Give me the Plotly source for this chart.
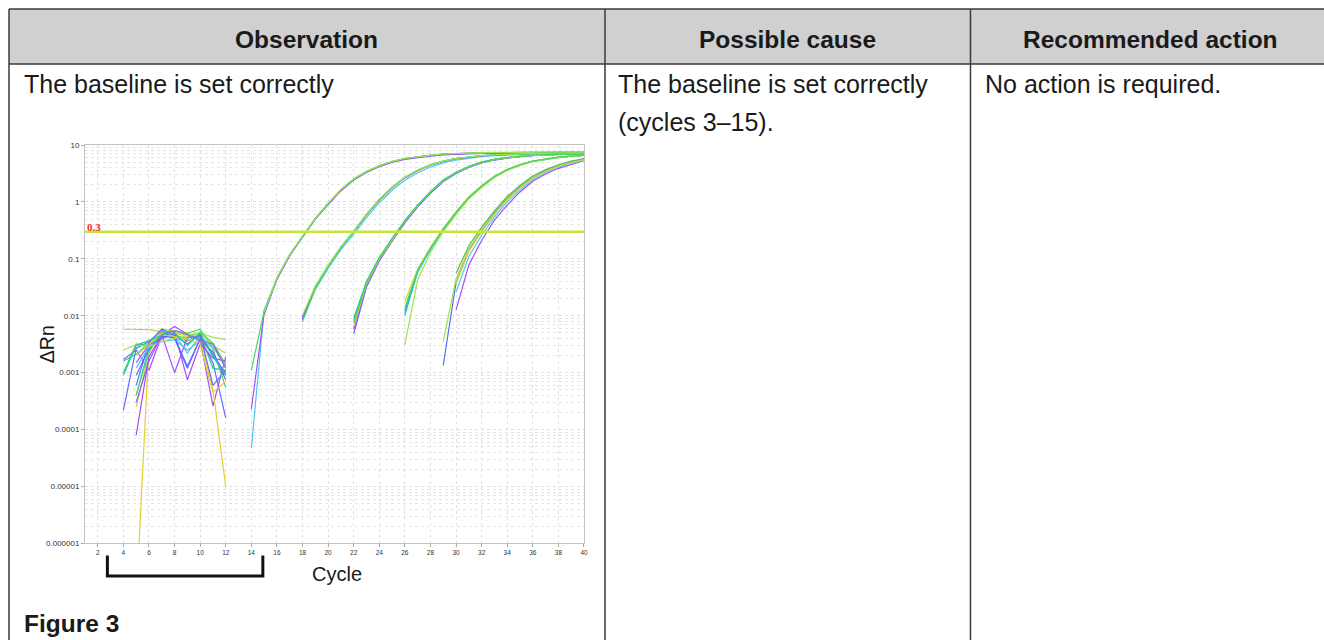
import math
import plotly.graph_objects as go

W, H = 1324, 640

# ---------------- data ----------------
CYCLES = [1, 2, 3, 4, 5, 6, 7, 8, 9, 10, 11, 12, 13, 14, 15, 16, 17, 18, 19, 20,
          21, 22, 23, 24, 25, 26, 27, 28, 29, 30, 31, 32, 33, 34, 35, 36, 37, 38, 39, 40]
X_TICKS = [2, 4, 6, 8, 10, 12, 14, 16, 18, 20, 22, 24, 26, 28, 30, 32, 34, 36, 38, 40]
Y_TICKS = [0.000001, 0.00001, 0.0001, 0.001, 0.01, 0.1, 1, 10]
Y_TICK_TEXT = ["0.000001", "0.00001", "0.0001", "0.001", "0.01", "0.1", "1", "10"]
THRESHOLD = 0.3
BASELINE_RANGE = [2.75, 14.9]

PURPLE = "#a64dff"
BLUE = "#5a6bff"
CYAN = "#4cc7f5"
TEAL = "#20c8a2"
GREEN = "#3fdc5c"
LIME = "#9fe34a"
YELLOW = "#e3cf33"
DKGREEN = "#5cb85c"
OLIVE = "#cfc65a"
THRESH_COLOR = "#c6e63c"

# baseline-noise wells
NOISE_01 = [0.0058, 0.0058, 0.0057, 0.0052, 0.0048, 0.0045, 0.0042, 0.0030, 0.0022]
NOISE_02 = [0.00022, 0.0027, 0.0035, 0.0055, 0.0040, 0.0012, 0.0040, 0.0015, 0.00016]
NOISE_03 = [0.0017, 0.0025, 0.0011, 0.0045, 0.0065, 0.0048, 0.0038, 0.00026, 0.0019]
NOISE_04 = [0.0010, 0.0032, 0.0030, 0.0052, 0.0044, 0.0040, 0.0052, 0.0033, 0.0014]
NOISE_05 = [0.0000001, 0.0030, 0.0060, 0.0050, 0.0045, 0.0040, 0.00050, 0.00001]
NOISE_06 = [0.00040, 0.0028, 0.0040, 0.0048, 0.0022, 0.0045, 0.0019, 0.00090]
NOISE_07 = [0.0016, 0.0021, 0.0033, 0.0042, 0.0047, 0.0036, 0.0048, 0.0012, 0.0011]
NOISE_08 = [0.00025, 0.0022, 0.0058, 0.0053, 0.0046, 0.0050, 0.0042, 0.0038]
NOISE_09 = [0.00008, 0.0019, 0.0047, 0.0010, 0.0042, 0.0042, 0.0021, 0.00095]
NOISE_10 = [0.00060, 0.0034, 0.0058, 0.0045, 0.0032, 0.0047, 0.00060, 0.0011]
NOISE_11 = [0.0015, 0.0031, 0.0039, 0.0052, 0.00075, 0.0032, 0.0018, 0.0016]
NOISE_12 = [0.00040, 0.0024, 0.0051, 0.0055, 0.0049, 0.0058, 0.0026, 0.00055]
NOISE_13 = [0.0020, 0.0031, 0.0049, 0.0043, 0.0039, 0.0031, 0.00045, 0.00070]
NOISE_14 = [0.0012, 0.0029, 0.0035, 0.0038, 0.0025, 0.0036, 0.0028, 0.0013]
NOISE_15 = [0.00090, 0.0026, 0.0044, 0.0041, 0.0013, 0.0039, 0.0023, 0.00075]
NOISE_16 = [0.0025, 0.0031, 0.0028, 0.0036, 0.0040, 0.0044, 0.0049, 0.0031, 0.0012]
NOISE_17 = [0.00030, 0.0016, 0.0046, 0.0055, 0.0047, 0.0036, 0.0032, 0.0012]
NOISE_18 = [0.0009, 0.0030, 0.0037, 0.0045, 0.0050, 0.0030, 0.0050, 0.0020, 0.0009]

# amplification curves, group 1 (highest input)
G1_A = [0.0011, 0.012, 0.046, 0.118, 0.245, 0.51, 0.93, 1.62, 2.5, 3.4, 4.3, 5.1, 5.8, 6.2,
        6.6, 6.9, 7.1, 7.2, 7.3, 7.3, 7.4, 7.4, 7.4, 7.4, 7.4, 7.4, 7.4]
G1_B = [0.00023, 0.011, 0.044, 0.114, 0.24, 0.5, 0.9, 1.56, 2.42, 3.3, 4.15, 4.95, 5.6, 6.05,
        6.4, 6.7, 6.9, 7.0, 7.1, 7.1, 7.2, 7.2, 7.2, 7.2, 7.2, 7.2, 7.2]
G1_C = [0.000047, 0.0125, 0.045, 0.116, 0.242, 0.505, 0.92, 1.6, 2.48, 3.38, 4.25, 5.05, 5.7,
        6.15, 6.55, 6.85, 7.05, 7.15, 7.25, 7.3, 7.35, 7.35, 7.35, 7.4, 7.4, 7.4, 7.4]
G1_D = [0.0105, 0.044, 0.117, 0.245, 0.51, 0.94, 1.63, 2.52, 3.42, 4.3, 5.1, 5.75, 6.2, 6.6,
        6.9, 7.1, 7.2, 7.3, 7.35, 7.4, 7.45, 7.45, 7.45, 7.45, 7.45, 7.45]
G1_E = [0.0115, 0.046, 0.12, 0.25, 0.52, 0.95, 1.65, 2.55, 3.45, 4.35, 5.15, 5.8, 6.25, 6.65,
        6.95, 7.15, 7.25, 7.35, 7.4, 7.45, 7.5, 7.5, 7.5, 7.5, 7.5, 7.5]
G1_F = [0.012, 0.045, 0.118, 0.247, 0.51, 0.93, 1.61, 2.5, 3.4, 4.28, 5.08, 5.75, 6.2, 6.6,
        6.9, 7.1, 7.2, 7.3, 7.35, 7.4, 7.4, 7.4, 7.4, 7.4, 7.4, 7.4]

# group 2
G2_A = [0.0095, 0.031, 0.074, 0.158, 0.3, 0.59, 1.08, 1.78, 2.65, 3.55, 4.45, 5.15, 5.75, 6.15,
        6.45, 6.7, 6.9, 7.0, 7.1, 7.15, 7.2, 7.25, 7.25]
G2_B = [0.0078, 0.03, 0.073, 0.157, 0.3, 0.6, 1.1, 1.8, 2.7, 3.6, 4.5, 5.2, 5.8, 6.2, 6.5,
        6.75, 6.9, 7.05, 7.15, 7.2, 7.25, 7.3, 7.3]
G2_C = [0.0085, 0.029, 0.068, 0.145, 0.27, 0.53, 0.97, 1.6, 2.4, 3.25, 4.1, 4.85, 5.45, 5.9,
        6.25, 6.5, 6.7, 6.85, 6.95, 7.0, 7.05, 7.1, 7.1]
G2_D = [0.0102, 0.033, 0.077, 0.163, 0.31, 0.61, 1.12, 1.83, 2.72, 3.62, 4.52, 5.22, 5.82, 6.22,
        6.52, 6.72, 6.92, 7.02, 7.12, 7.2, 7.22, 7.3, 7.3]
G2_E = [0.0088, 0.032, 0.075, 0.16, 0.3, 0.6, 1.1, 1.79, 2.68, 3.58, 4.48, 5.18, 5.78, 6.18,
        6.48, 6.7, 6.88, 7.0, 7.1, 7.15, 7.2, 7.25, 7.25]
G2_F = [0.0092, 0.033, 0.076, 0.162, 0.305, 0.605, 1.1, 1.8, 2.7, 3.6, 4.5, 5.2, 5.8, 6.2, 6.5,
        6.7, 6.9, 7.0, 7.1, 7.2, 7.2, 7.3, 7.3]

# group 3
G3_A = [0.009, 0.04, 0.105, 0.23, 0.47, 0.88, 1.52, 2.42, 3.32, 4.22, 5.0, 5.6, 6.05, 6.4, 6.65,
        6.8, 6.9, 7.0, 7.05]
G3_B = [0.0048, 0.032, 0.092, 0.205, 0.43, 0.82, 1.42, 2.28, 3.15, 4.05, 4.85, 5.45, 5.9, 6.25,
        6.5, 6.7, 6.85, 6.95, 7.0]
G3_C = [0.0065, 0.036, 0.099, 0.218, 0.455, 0.86, 1.49, 2.38, 3.28, 4.18, 4.98, 5.58, 6.0, 6.38,
        6.6, 6.78, 6.9, 6.98, 7.0]
G3_D = [0.0075, 0.038, 0.102, 0.225, 0.465, 0.875, 1.51, 2.4, 3.3, 4.2, 5.0, 5.6, 6.02, 6.4,
        6.62, 6.8, 6.9, 7.0, 7.02]
G3_E = [0.0058, 0.034, 0.095, 0.21, 0.44, 0.84, 1.45, 2.32, 3.22, 4.12, 4.92, 5.52, 5.95, 6.3,
        6.55, 6.72, 6.85, 6.95, 6.98]
G3_F = [0.0082, 0.039, 0.103, 0.226, 0.47, 0.88, 1.52, 2.42, 3.32, 4.2, 5.0, 5.6, 6.0, 6.38,
        6.6, 6.78, 6.9, 6.98, 7.0]

# group 4
G4_A = [0.018, 0.066, 0.158, 0.345, 0.67, 1.22, 1.93, 2.83, 3.72, 4.52, 5.22, 5.72, 6.12, 6.42, 6.62]
G4_B = [0.0102, 0.062, 0.152, 0.335, 0.655, 1.2, 1.9, 2.8, 3.7, 4.5, 5.2, 5.7, 6.1, 6.4, 6.6]
G4_C = [0.0031, 0.043, 0.13, 0.3, 0.6, 1.12, 1.8, 2.68, 3.58, 4.38, 5.1, 5.62, 6.02, 6.35, 6.55]
G4_D = [0.012, 0.06, 0.148, 0.328, 0.648, 1.19, 1.89, 2.79, 3.69, 4.49, 5.19, 5.69, 6.09, 6.39, 6.6]
G4_E = [0.014, 0.063, 0.154, 0.338, 0.66, 1.21, 1.91, 2.81, 3.71, 4.51, 5.21, 5.71, 6.11, 6.41, 6.61]
G4_F = [0.011, 0.058, 0.146, 0.325, 0.64, 1.18, 1.87, 2.77, 3.67, 4.47, 5.17, 5.67, 6.07, 6.37, 6.58]

# group 5 (lowest input)
G5_A = [0.056, 0.17, 0.36, 0.7, 1.25, 1.95, 2.85, 3.7, 4.5, 5.2, 5.8]
G5_B = [0.0035, 0.045, 0.15, 0.33, 0.66, 1.2, 1.88, 2.75, 3.6, 4.4, 5.1, 5.7]
G5_C = [0.00135, 0.038, 0.14, 0.31, 0.63, 1.15, 1.82, 2.68, 3.52, 4.32, 5.02, 5.62]
G5_D = [0.037, 0.135, 0.3, 0.6, 1.1, 1.75, 2.6, 3.45, 4.25, 4.95, 5.55]
G5_E = [0.026, 0.11, 0.26, 0.54, 1.0, 1.62, 2.45, 3.3, 4.1, 4.8, 5.4]
G5_F = [0.0126, 0.078, 0.21, 0.48, 0.88, 1.5, 2.3, 3.1, 3.9, 4.6, 5.3]

WELLS = [
    (4, OLIVE, NOISE_01), (4, BLUE, NOISE_02), (4, PURPLE, NOISE_03), (4, GREEN, NOISE_04),
    (5, YELLOW, NOISE_05), (5, CYAN, NOISE_06), (4, TEAL, NOISE_07), (5, LIME, NOISE_08),
    (5, PURPLE, NOISE_09), (5, BLUE, NOISE_10), (5, PURPLE, NOISE_11), (5, GREEN, NOISE_12),
    (5, YELLOW, NOISE_13), (5, CYAN, NOISE_14), (5, BLUE, NOISE_15), (4, LIME, NOISE_16),
    (5, PURPLE, NOISE_17), (4, TEAL, NOISE_18),
    (14, CYAN, G1_C), (15, BLUE, G1_D), (15, TEAL, G1_F), (14, PURPLE, G1_B),
    (14, GREEN, G1_A), (15, LIME, G1_E),
    (18, CYAN, G2_C), (18, BLUE, G2_E), (18, TEAL, G2_F), (18, PURPLE, G2_A),
    (18, GREEN, G2_B), (18, LIME, G2_D),
    (22, BLUE, G3_B), (22, CYAN, G3_F), (22, PURPLE, G3_E), (22, TEAL, G3_A),
    (22, YELLOW, G3_C), (22, GREEN, G3_D),
    (26, BLUE, G4_D), (26, CYAN, G4_F), (26, TEAL, G4_B), (26, YELLOW, G4_A),
    (26, LIME, G4_C), (26, GREEN, G4_E),
    (30, PURPLE, G5_F), (29, BLUE, G5_C), (30, CYAN, G5_E), (30, YELLOW, G5_D),
    (29, LIME, G5_B), (30, DKGREEN, G5_A),
]

# ---------------- layout helpers (target pixel -> paper) ----------------
SX, SY, OY = 0.997, 0.985, 4.1   # calibration of the captured page


def px(x):
    return (x / SX) / W


def py(y):
    return 1 - ((y - OY) / SY) / H


FONT = "Liberation Sans, Arial, Helvetica, sans-serif"
LINE = "#3a3a3a"

fig = go.Figure()

for start, color, vals in WELLS:
    xs = CYCLES[start - 1:start - 1 + len(vals)]
    fig.add_trace(go.Scatter(x=xs, y=vals, mode="lines",
                             line=dict(color=color, width=1.2),
                             showlegend=False, hoverinfo="skip"))

fig.add_trace(go.Scatter(x=[CYCLES[0], CYCLES[-1]], y=[THRESHOLD, THRESHOLD], mode="lines",
                         line=dict(color=THRESH_COLOR, width=2.6),
                         showlegend=False, hoverinfo="skip"))

shapes = []
shapes.append(dict(type="rect", xref="paper", yref="paper", x0=px(9), x1=px(1335),
                   y0=py(64), y1=py(9), fillcolor="#d0d0d0", line=dict(width=0), layer="below"))
for (x0, y0, x1, y1) in [(9, 9, 1335, 9), (9, 64, 1335, 64),
                         (9, 9, 9, 650), (605, 9, 605, 650), (970.5, 9, 970.5, 650)]:
    shapes.append(dict(type="line", xref="paper", yref="paper", x0=px(x0), x1=px(x1),
                       y0=py(y0), y1=py(y1), line=dict(color=LINE, width=1.5)))
shapes.append(dict(type="path", xref="x", yref="paper",
                   path="M %f,%f L %f,%f L %f,%f L %f,%f" % (
                       BASELINE_RANGE[0], py(555), BASELINE_RANGE[0], py(575.5),
                       BASELINE_RANGE[1], py(575.5), BASELINE_RANGE[1], py(555)),
                   line=dict(color="#111111", width=3)))

ann = []


def text(x, y, s, size=24, xanchor="left", color="#1a1a1a", **kw):
    ann.append(dict(x=px(x), y=py(y), xref="paper", yref="paper", text=s, showarrow=False,
                    xanchor=xanchor, yanchor="middle",
                    font=dict(family=FONT, size=size, color=color), **kw))


text(307, 40, "<b>Observation</b>", size=24.5, xanchor="center")
text(788, 40, "<b>Possible cause</b>", size=24.5, xanchor="center")
text(1151, 40, "<b>Recommended action</b>", size=24.5, xanchor="center")
text(22, 84, "The baseline is set correctly", size=25)
text(616, 84, "The baseline is set correctly", size=25)
text(616, 122, "(cycles 3\u201315).", size=25)
text(983, 84, "No action is required.", size=25)
text(22, 623, "<b>Figure 3</b>", size=24.5)
text(337, 574, "Cycle", size=20, xanchor="center")
text(47, 344, "\u0394Rn", size=19.5, xanchor="center", textangle=-90)

ann.append(dict(x=CYCLES[0], y=math.log10(THRESHOLD), xref="x", yref="y", text="<b>0.3</b>",
                showarrow=False, xanchor="left", yanchor="bottom", xshift=0, yshift=-3,
                font=dict(family="Liberation Serif, Times New Roman, serif", size=11, color="#ff1a1a")))

fig.update_layout(
    width=W, height=H,
    margin=dict(l=0, r=0, t=0, b=0),
    paper_bgcolor="white", plot_bgcolor="white",
    shapes=shapes, annotations=ann,
    xaxis=dict(domain=[px(85), px(584)], range=[CYCLES[0], CYCLES[-1]],
               tickvals=X_TICKS, ticks="outside", ticklen=3, tickcolor="#aaaaaa",
               tickfont=dict(family=FONT, size=6.5, color="#333333"),
               showline=True, mirror=True, linecolor="#c4c4c4", linewidth=1,
               showgrid=True, gridcolor="#e2e2e2", griddash="dot", zeroline=False),
    yaxis=dict(domain=[py(543), py(145)], type="log", range=[-6, 1],
               tickvals=Y_TICKS, ticktext=Y_TICK_TEXT, ticks="outside", ticklen=3,
               tickcolor="#aaaaaa",
               tickfont=dict(family=FONT, size=8, color="#333333"),
               showline=True, mirror=True, linecolor="#c4c4c4", linewidth=1,
               showgrid=True, gridcolor="#dedede", griddash="dot", zeroline=False,
               minor=dict(showgrid=True, gridcolor="#e6e6e6", griddash="dot", ticks="",
                          dtick="D1")),
)

fig.write_html("out.html",
               config={"displayModeBar": False},
               post_script="document.body.style.margin='0';"
                           "document.body.style.overflow='hidden';")
